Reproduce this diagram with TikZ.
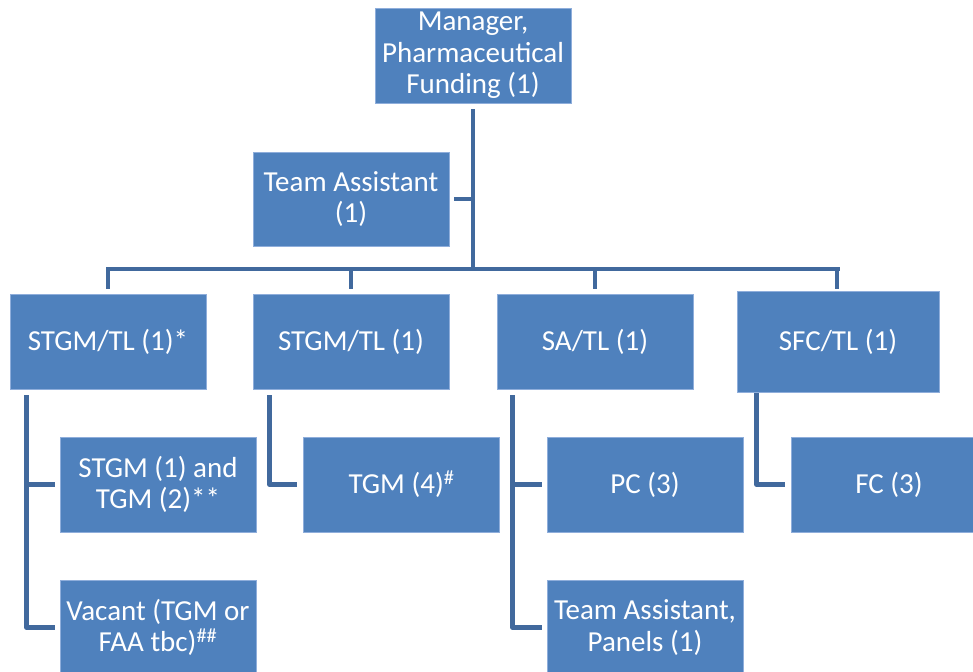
\documentclass[tikz,border=0pt]{standalone}
\usepackage{fontspec}
\setmainfont{Carlito}
\definecolor{boxfill}{HTML}{4F81BD}
\definecolor{boxline}{HTML}{8FAEDB}
\definecolor{connc}{HTML}{41699D}
\begin{document}
\begin{tikzpicture}[x=1pt,y=-1pt,
  orgbox/.style={rectangle, fill=boxfill, draw=boxline, line width=0.8pt,
    minimum width=196pt, minimum height=95pt, inner sep=2pt, align=center,
    text=white, font=\fontsize{29}{31.5}\selectfont},
  conn/.style={draw=connc, line width=4.5pt, line join=round}]
\useasboundingbox (0,0) rectangle (973,671);
\clip (0,0) rectangle (973,671);
% nodes
\node[orgbox] (top) at (473,55.5) {Manager,\\Pharmaceutical\\Funding (1)};
\node[orgbox, minimum height=94pt] (ta) at (351,199) {Team Assistant\\(1)};
\node[orgbox] (b1) at (108,341.5) {STGM/TL (1)*};
\node[orgbox] (b2) at (351,341.5) {STGM/TL (1)};
\node[orgbox] (b3) at (595,341.5) {SA/TL (1)};
\node[orgbox, minimum width=202pt, minimum height=101pt] (b4) at (838,341.5) {SFC/TL (1)};
\node[orgbox] (c1) at (158,484.5) {STGM (1) and\\TGM (2)**};
\node[orgbox] (c2) at (158,627.5) {Vacant (TGM or\\FAA tbc)\textsuperscript{\#\#}};
\node[orgbox] (c3) at (401.5,484.5) {TGM (4)\textsuperscript{\#}};
\node[orgbox] (c4) at (645,484.5) {PC (3)};
\node[orgbox] (c5) at (645,627.5) {Team Assistant,\\Panels (1)};
\node[orgbox] (c6) at (889,484.5) {FC (3)};
\coordinate (bar) at (473,269);
% connectors
\draw[conn] ([yshift=-6pt]top.south) -- (top.south |- bar);
\draw[conn] ([xshift=5pt]ta.east) -- (ta.east -| top.south);
\draw[conn] ([xshift=-2pt]b1.north |- bar) -- ([xshift=2pt]b4.north |- bar);
\draw[conn] (b1.north |- bar) -- ([yshift=5pt]b1.north);
\draw[conn] (b2.north |- bar) -- ([yshift=5pt]b2.north);
\draw[conn] (b3.north |- bar) -- ([yshift=5pt]b3.north);
\draw[conn] ([xshift=-1pt]b4.north |- bar) -- ([xshift=-1pt,yshift=2pt]b4.north);
\draw[conn] ([xshift=17pt,yshift=-6pt]b1.south west) |- ([xshift=-5pt]c1.west);
\draw[conn] ([xshift=17pt,yshift=-6pt]b1.south west) |- ([xshift=-5pt]c2.west);
\draw[conn] ([xshift=17pt,yshift=-6pt]b2.south west) |- ([xshift=-6pt]c3.west);
\draw[conn] ([xshift=16pt,yshift=-6pt]b3.south west) |- ([xshift=-5pt]c4.west);
\draw[conn] ([xshift=16pt,yshift=-6pt]b3.south west) |- ([xshift=-5pt]c5.west);
\draw[conn] ([xshift=20pt,yshift=-1pt]b4.south west) |- ([xshift=-6pt]c6.west);
\end{tikzpicture}
\end{document}
